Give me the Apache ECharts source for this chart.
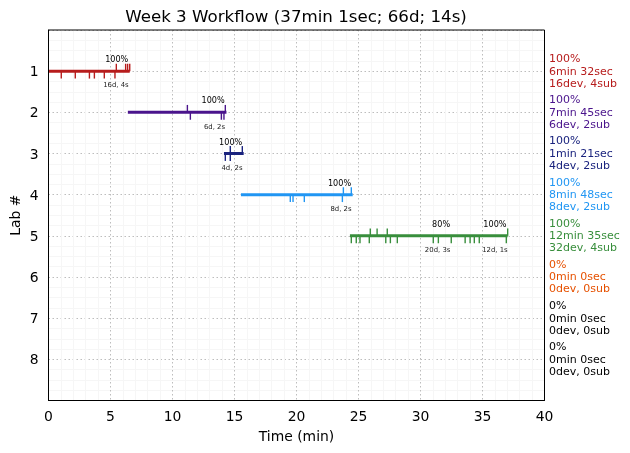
<!DOCTYPE html>
<html>
<head>
<meta charset="utf-8">
<style>html,body{margin:0;padding:0;background:#fff}#chart{width:630px;height:453px}</style>
<script src="https://cdn.jsdelivr.net/npm/echarts@6/dist/echarts.min.js"></script>
</head>
<body>
<div id="chart"></div>
<script>
var FONT = '"DejaVu Sans"';
var labs = [1, 2, 3, 4, 5, 6, 7, 8];
var labColors = ['#b71c1c', '#4a148c', '#1a237e', '#2196f3', '#388e3c', '#e65100', '#000000', '#000000'];
var barStart = [0, 6.4, 14.15, 15.52, 24.31];
var barEnd = [6.55, 14.35, 15.74, 24.53, 37.03];
// ticks above the bar
var upTicks = [
  [5.47, 6.22, 6.38, 6.55],
  [11.2, 14.26],
  [14.66, 15.63],
  [23.78, 24.42],
  [25.95, 26.5, 27.32, 37.03]
];
// ticks below the bar
var downTicks = [
  [1.03, 2.16, 3.3, 3.7, 4.5, 5.36],
  [11.44, 13.94, 14.15],
  [14.26, 14.66],
  [19.5, 19.72, 20.63, 23.7],
  [24.42, 24.82, 25.12, 25.87, 27.2, 27.57, 28.13, 31.03, 31.44, 32.48, 33.6, 34.0, 34.34, 34.74, 36.92]
];
var noteLab = [1, 2, 3, 4, 5, 5];
var notePctX = [5.5, 13.27, 14.69, 23.47, 31.66, 36.0];
var notePct = ['100%', '100%', '100%', '100%', '80%', '100%'];
var noteDetailX = [5.44, 13.39, 14.8, 23.59, 31.38, 36.0];
var noteDetail = ['16d, 4s', '6d, 2s', '4d, 2s', '8d, 2s', '20d, 3s', '12d, 1s'];
var sidePct = ['100%', '100%', '100%', '100%', '100%', '0%', '0%', '0%'];
var sideTime = ['6min 32sec', '7min 45sec', '1min 21sec', '8min 48sec', '12min 35sec', '0min 0sec', '0min 0sec', '0min 0sec'];
var sideCount = ['16dev, 4sub', '6dev, 2sub', '4dev, 2sub', '8dev, 2sub', '32dev, 4sub', '0dev, 0sub', '0dev, 0sub', '0dev, 0sub'];

var TICK_LEN = 0.18;
var barRows = barStart.map(function (s, i) { return [s, barEnd[i], i + 1]; });
var tickRows = [];
upTicks.forEach(function (list, i) {
  list.forEach(function (x) { tickRows.push([x, i + 1, -TICK_LEN]); });
});
downTicks.forEach(function (list, i) {
  list.forEach(function (x) { tickRows.push([x, i + 1, TICK_LEN]); });
});
var noteRows = [];
noteLab.forEach(function (lab, i) {
  noteRows.push([notePctX[i], lab, notePct[i], -11, 8.1, '#000']);
  noteRows.push([noteDetailX[i], lab, noteDetail[i], 14.5, 6.9, '#222']);
});
var sideRows = [];
labs.forEach(function (lab, i) {
  sideRows.push([40.37, lab, sidePct[i], -12, labColors[i]]);
  sideRows.push([40.37, lab, sideTime[i], 0.5, labColors[i]]);
  sideRows.push([40.37, lab, sideCount[i], 12.5, labColors[i]]);
});

var chart = echarts.init(document.getElementById('chart'), null, { renderer: 'canvas' });
chart.setOption({
  animation: false,
  backgroundColor: '#fff',
  title: {
    text: 'Week 3 Workflow (37min 1sec; 66d; 14s)',
    left: 291, top: 4, textAlign: 'center',
    textStyle: { fontFamily: FONT, fontSize: 16.67, fontWeight: 'normal', color: '#000' }
  },
  grid: { left: 48.5, right: 85.5, top: 30, bottom: 52.5, outerBoundsMode: 'none' },
  xAxis: {
    type: 'value', min: 0, max: 40, interval: 5,
    name: 'Time (min)', nameLocation: 'middle', nameGap: 30,
    nameTextStyle: { fontFamily: FONT, fontSize: 13.9, color: '#000' },
    axisLine: { show: true, onZero: false, lineStyle: { color: '#000', width: 1 } },
    axisTick: { show: false },
    axisLabel: { fontFamily: FONT, fontSize: 13.9, color: '#000', margin: 10, showMinLabel: true, showMaxLabel: true },
    splitLine: { show: true, lineStyle: { color: '#bdbdbd', type: [1.5, 2.5], width: 1 } },
    minorTick: { show: false, splitNumber: 5 },
    minorSplitLine: { show: true, lineStyle: { color: '#f6f6f6', width: 1 } }
  },
  yAxis: {
    type: 'value', min: 0, max: 9, interval: 1, inverse: true,
    name: 'Lab #', nameLocation: 'middle', nameGap: 25, nameMoveOverlap: false,
    nameTextStyle: { fontFamily: FONT, fontSize: 13.9, color: '#000' },
    axisLine: { show: true, onZero: false, lineStyle: { color: '#000', width: 1 } },
    axisTick: { show: false },
    axisLabel: {
      fontFamily: FONT, fontSize: 13.9, color: '#000', margin: 10,
      formatter: function (v) { return labs.indexOf(v) >= 0 ? '{n|' + v + '}' : ''; },
      rich: { n: { fontFamily: FONT, fontSize: 13.9, color: '#000', padding: [3, 0, 0, 0] } }
    },
    splitLine: { show: true, lineStyle: { color: '#bdbdbd', type: [1.5, 2.5], width: 1 } },
    minorTick: { show: false, splitNumber: 4 },
    minorSplitLine: { show: true, lineStyle: { color: '#f6f6f6', width: 1 } }
  },
  series: [
    {
      // right and top frame lines
      type: 'custom', silent: true, z: 5, data: [[0, 0, 40, 9]],
      renderItem: function (params, api) {
        var a = api.coord([api.value(0), api.value(1)]);
        var b = api.coord([api.value(2), api.value(3)]);
        return { type: 'rect', shape: { x: a[0], y: a[1], width: b[0] - a[0], height: b[1] - a[1] },
          style: { fill: 'none', stroke: '#000', lineWidth: 1 } };
      }
    },
    {
      type: 'custom', silent: true, z: 3, data: tickRows,
      encode: { x: 0, y: 1 },
      renderItem: function (params, api) {
        var x = api.value(0), lab = api.value(1);
        var a = api.coord([x, lab]);
        var b = api.coord([x, lab + api.value(2)]);
        return { type: 'line', shape: { x1: a[0], y1: a[1], x2: b[0], y2: b[1] },
          style: { stroke: labColors[lab - 1], lineWidth: 1.4 } };
      }
    },
    {
      type: 'custom', silent: true, z: 4, data: barRows,
      encode: { x: [0, 1], y: 2 },
      renderItem: function (params, api) {
        var lab = api.value(2);
        var a = api.coord([api.value(0), lab]);
        var b = api.coord([api.value(1), lab]);
        return { type: 'line', shape: { x1: a[0], y1: a[1], x2: b[0], y2: b[1] },
          style: { stroke: labColors[lab - 1], lineWidth: 3 } };
      }
    },
    {
      type: 'custom', silent: true, z: 6, data: noteRows,
      encode: { x: 0, y: 1 },
      renderItem: function (params, api) {
        var row = noteRows[params.dataIndex];
        var p = api.coord([row[0], row[1]]);
        return { type: 'text', style: { x: p[0], y: p[1] + row[3], text: row[2], fill: row[5],
          font: row[4] + 'px ' + FONT, textAlign: 'center', textVerticalAlign: 'middle' } };
      }
    },
    {
      type: 'custom', silent: true, z: 6, data: sideRows, clip: false,
      encode: { x: 0, y: 1 },
      renderItem: function (params, api) {
        var row = sideRows[params.dataIndex];
        var p = api.coord([row[0], row[1]]);
        return { type: 'text', style: { x: p[0], y: p[1] + row[3], text: row[2], fill: row[4],
          font: '11px ' + FONT, textAlign: 'left', textVerticalAlign: 'middle' } };
      }
    }
  ]
});
</script>
</body>
</html>
